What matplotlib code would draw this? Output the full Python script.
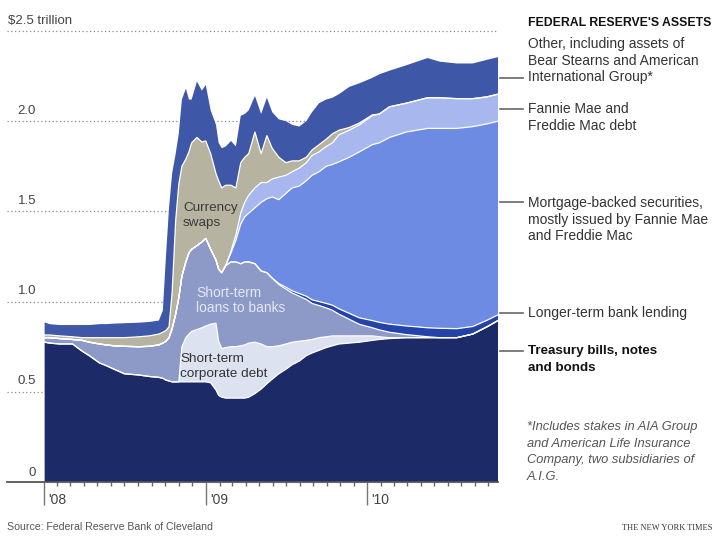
import numpy as np
import pandas as pd
import matplotlib
matplotlib.use("Agg")
import matplotlib.pyplot as plt
from matplotlib.lines import Line2D
from matplotlib.ticker import FixedLocator

# Federal Reserve balance sheet, trillions of dollars
dates = pd.to_datetime([
    "2008-01-03", "2008-01-14", "2008-02-06", "2008-03-06", "2008-03-28",
    "2008-04-13", "2008-05-06", "2008-05-21", "2008-06-08", "2008-07-01",
    "2008-08-03", "2008-08-26", "2008-09-17", "2008-09-26", "2008-10-03",
    "2008-10-10", "2008-10-17", "2008-10-25", "2008-11-01", "2008-11-08",
    "2008-11-17", "2008-11-24", "2008-11-30", "2008-12-12", "2008-12-23",
    "2009-01-01", "2009-01-12", "2009-01-24", "2009-01-30", "2009-02-06",
    "2009-02-15", "2009-02-27", "2009-03-10", "2009-03-21", "2009-03-30",
    "2009-04-08", "2009-04-22", "2009-05-06", "2009-05-19", "2009-05-31",
    "2009-06-15", "2009-07-01", "2009-07-15", "2009-07-31", "2009-08-16",
    "2009-08-29", "2009-09-14", "2009-09-30", "2009-10-14", "2009-10-29",
    "2009-11-21", "2009-12-14", "2010-01-12", "2010-01-28", "2010-02-20",
    "2010-03-30", "2010-05-17", "2010-06-13", "2010-07-22", "2010-08-27",
    "2010-09-28", "2010-10-23",
])

treasury = [
    .775, .77, .765, .765, .725, .70, .66, .645, .625, .60,
    .593, .585, .58, .575, .565, .56, .555, .555, .555, .555,
    .555, .555, .555, .555, .555, .555, .55, .51, .48, .47,
    .465, .465, .465, .465, .465, .47, .49, .515, .545, .57,
    .60, .625, .65, .67, .70, .715, .73, .745, .755, .765,
    .77, .775, .785, .79, .795, .80, .80, .80, .80, .82,
    .86, .895,
]
corporate_debt = [
    0, 0, 0, 0, 0, 0, 0, 0, 0, 0,
    0, 0, 0, 0, 0, 0, 0, 0, 0, .195,
    .245, .265, .28, .29, .30, .31, .325, .37, .30, .27,
    .28, .285, .285, .29, .295, .30, .285, .25, .205, .18,
    .155, .14, .125, .11, .085, .075, .07, .06, .055, .045,
    .04, .035, .025, .015, .005, 0, 0, 0, 0, 0,
    0, 0,
]
bank_loans = [
    .025, .03, .03, .025, .06, .075, .105, .115, .13, .152,
    .157, .167, .18, .195, .215, .24, .295, .375, .465, .39,
    .42, .45, .455, .465, .475, .485, .415, .35, .40, .42,
    .455, .47, .47, .455, .46, .45, .435, .405, .41, .38,
    .34, .305, .273, .25, .227, .20, .178, .16, .142, .12,
    .092, .064, .045, .038, .03, .017, .005, 0, 0, 0,
    0, 0,
]
longer_term = [
    0, 0, 0, 0, 0, 0, 0, 0, 0, 0,
    0, 0, 0, 0, 0, 0, 0, 0, 0, 0,
    0, 0, 0, 0, 0, 0, 0, 0, 0, 0,
    0, 0, 0, 0, 0, 0, 0, 0, 0, 0,
    .005, .01, .012, .015, .018, .02, .022, .025, .028, .03,
    .033, .036, .04, .042, .045, .048, .05, .052, .05, .042,
    .036, .032,
]
mortgage_backed = [
    0, 0, 0, 0, 0, 0, 0, 0, 0, 0,
    0, 0, 0, 0, 0, 0, 0, 0, 0, 0,
    0, 0, 0, 0, 0, 0, 0, 0, 0, 0,
    0, .05, .12, .22, .25, .27, .31, .38, .41, .45,
    .465, .52, .57, .595, .64, .69, .72, .76, .78, .815,
    .865, .92, .975, .995, 1.035, 1.075, 1.105, 1.108, 1.11, 1.108,
    1.089, 1.073,
]
fannie_freddie = [
    0, 0, 0, 0, 0, 0, 0, 0, 0, 0,
    0, 0, 0, 0, 0, 0, 0, 0, 0, 0,
    0, 0, 0, 0, 0, 0, 0, 0, 0, 0,
    0, .01, .03, .06, .08, .10, .11, .11, .09, .10,
    .125, .10, .09, .10, .10, .11, .11, .11, .12, .15,
    .15, .15, .16, .16, .17, .16, .17, .17, .165, .155,
    .15, .15,
]
currency_swaps = [
    .015, .015, .015, .015, .015, .025, .035, .04, .045, .048,
    .055, .058, .06, .06, .06, .06, .20, .52, .63, .61,
    .57, .56, .59, .60, .555, .54, .53, .48, .49, .47,
    .445, .365, .26, .28, .25, .23, .31, .16, .26, .17,
    .11, .07, .06, .04, .03, .03, .04, .04, .05, .025,
    .015, .01, .005, 0, 0, 0, 0, 0, 0, 0,
    0, 0,
]
other = [
    .07, .06, .06, .065, .07, .07, .075, .075, .078, .08,
    .078, .077, .075, .12, .41, .66, .66, .37, .28, .37,
    .39, .29, .24, .31, .285, .31, .24, .27, .21, .22,
    .215, .245, .23, .26, .24, .24, .20, .22, .21, .20,
    .21, .23, .20, .19, .20, .21, .23, .22, .20, .20,
    .225, .22, .205, .22, .20, .21, .22, .20, .195, .195,
    .205, .205,
]

series = [treasury, corporate_debt, bank_loans, longer_term,
          mortgage_backed, fannie_freddie, currency_swaps, other]
colors = ["#1c2a68", "#dde2f1", "#8d99c7", "#2443a8",
          "#6d8be3", "#a8b7ee", "#b6b3a1", "#3e57a6"]

y_ticks = [0.5, 1.0, 1.5, 2.0, 2.5]
y_labels = ["0.5", "1.0", "1.5", "2.0", "$2.5 trillion"]
years = pd.to_datetime(["2008-01-01", "2009-01-01", "2010-01-01"])
year_labels = ["'08", "'09", "'10"]
months = pd.date_range("2008-02-01", "2010-10-01", freq="MS")

W, H = 720, 542
plt.rcParams["font.family"] = ["Liberation Sans", "DejaVu Sans"]


def fx(x):
    return x / W


def fy(y):
    return 1 - y / H


fig = plt.figure(figsize=(W / 100, H / 100), dpi=100)
ax = fig.add_axes([fx(7), fy(482), (498 - 7) / W, (482 - 31) / H])

for v in y_ticks:
    ax.axhline(v, color="#8a8a8a", lw=0.9, ls=(0, (1, 2)), zorder=0, clip_on=False)

ax.stackplot(dates, *series, colors=colors, linewidth=0, zorder=2)
tops = np.cumsum(np.array(series), axis=0)
for top in tops[:-1]:
    ax.plot(dates, top, color="white", lw=0.9, zorder=3)

ax.axhline(0, color="#555555", lw=1.3, zorder=5, clip_on=False)

ax.set_xlim(pd.Timestamp("2007-10-10"), pd.Timestamp("2010-10-23"))
ax.set_ylim(0, 2.5)
for s in ax.spines.values():
    s.set_visible(False)
ax.set_yticks([])
ax.set_xticks(years)
ax.xaxis.set_minor_locator(FixedLocator(matplotlib.dates.date2num(months)))
ax.set_xticklabels([])
ax.tick_params(axis="x", which="major", length=16.5, width=1, color="#777777")
ax.tick_params(axis="x", which="minor", length=3.2, width=1, color="#666666")

for d, lab in zip(years, year_labels):
    ax.annotate(lab, xy=(d, 0), xycoords=("data", "axes fraction"),
                xytext=(3, -13), textcoords="offset points",
                ha="left", va="center", fontsize=10, color="#444444")

for v, lab in zip(y_ticks, y_labels):
    if v == 2.5:
        ax.annotate(lab, xy=(1 / 491, v), xycoords=("axes fraction", "data"),
                    xytext=(0, 7.5), textcoords="offset points",
                    ha="left", va="center", fontsize=9.5, color="#444444")
    else:
        ax.annotate(lab, xy=(29 / 491, v), xycoords=("axes fraction", "data"),
                    xytext=(0, 7.5), textcoords="offset points",
                    ha="right", va="center", fontsize=9.5, color="#444444")
ax.annotate("0", xy=(29 / 491, 0), xycoords=("axes fraction", "data"),
            xytext=(0, 6.5), textcoords="offset points",
            ha="right", va="center", fontsize=9.5, color="#444444")

# labels inside the areas
fig.text(fx(183), fy(208), "Currency", fontsize=9.7, color="#3a3a3a", va="center")
fig.text(fx(183), fy(223), "swaps", fontsize=9.7, color="#3a3a3a", va="center")
fig.text(fx(196), fy(293), "Short-term", fontsize=9.9, color="#e4e8f6", va="center")
fig.text(fx(196), fy(308), "loans to banks", fontsize=9.9, color="#e4e8f6", va="center")
fig.text(fx(180), fy(359), "Short-term", fontsize=9.7, color="#333333", va="center")
fig.text(fx(180), fy(374), "corporate debt", fontsize=9.7, color="#333333", va="center")

# right-hand key
fig.text(fx(528), fy(23), "FEDERAL RESERVE'S ASSETS", fontsize=8.8,
         fontweight="bold", color="#111111", va="center")
key = [
    (78, ["Other, including assets of", "Bear Stearns and American",
          "International Group*"], 44, "normal"),
    (109, ["Fannie Mae and", "Freddie Mac debt"], 109, "normal"),
    (202, ["Mortgage-backed securities,", "mostly issued by Fannie Mae",
           "and Freddie Mac"], 203, "normal"),
    (313, ["Longer-term bank lending"], 313, "normal"),
    (351, ["Treasury bills, notes", "and bonds"], 351, "bold"),
]
for lead_y, lines, first_y, weight in key:
    fig.add_artist(Line2D([fx(500), fx(523)], [fy(lead_y), fy(lead_y)],
                          color="#666666", lw=1.2))
    for i, line in enumerate(lines):
        bold = weight == "bold"
        fig.text(fx(528), fy(first_y + 16.7 * i), line,
                 fontsize=9.6 if bold else 10, fontweight=weight,
                 color="#111111" if bold else "#333333", va="center")

notes = ["*Includes stakes in AIA Group", "and American Life Insurance",
         "Company, two subsidiaries of", "A.I.G."]
for i, line in enumerate(notes):
    fig.text(fx(527), fy(427 + 16.7 * i), line, fontsize=9.3, style="italic",
             color="#555555", va="center")

fig.text(fx(7), fy(527), "Source: Federal Reserve Bank of Cleveland", fontsize=7.6,
         color="#555555", va="center")
fig.text(fx(712), fy(528), "THE NEW YORK TIMES", fontsize=6,
         family=["Liberation Serif", "DejaVu Serif"], color="#333333",
         ha="right", va="center")

fig.savefig("out.png", dpi=100)
